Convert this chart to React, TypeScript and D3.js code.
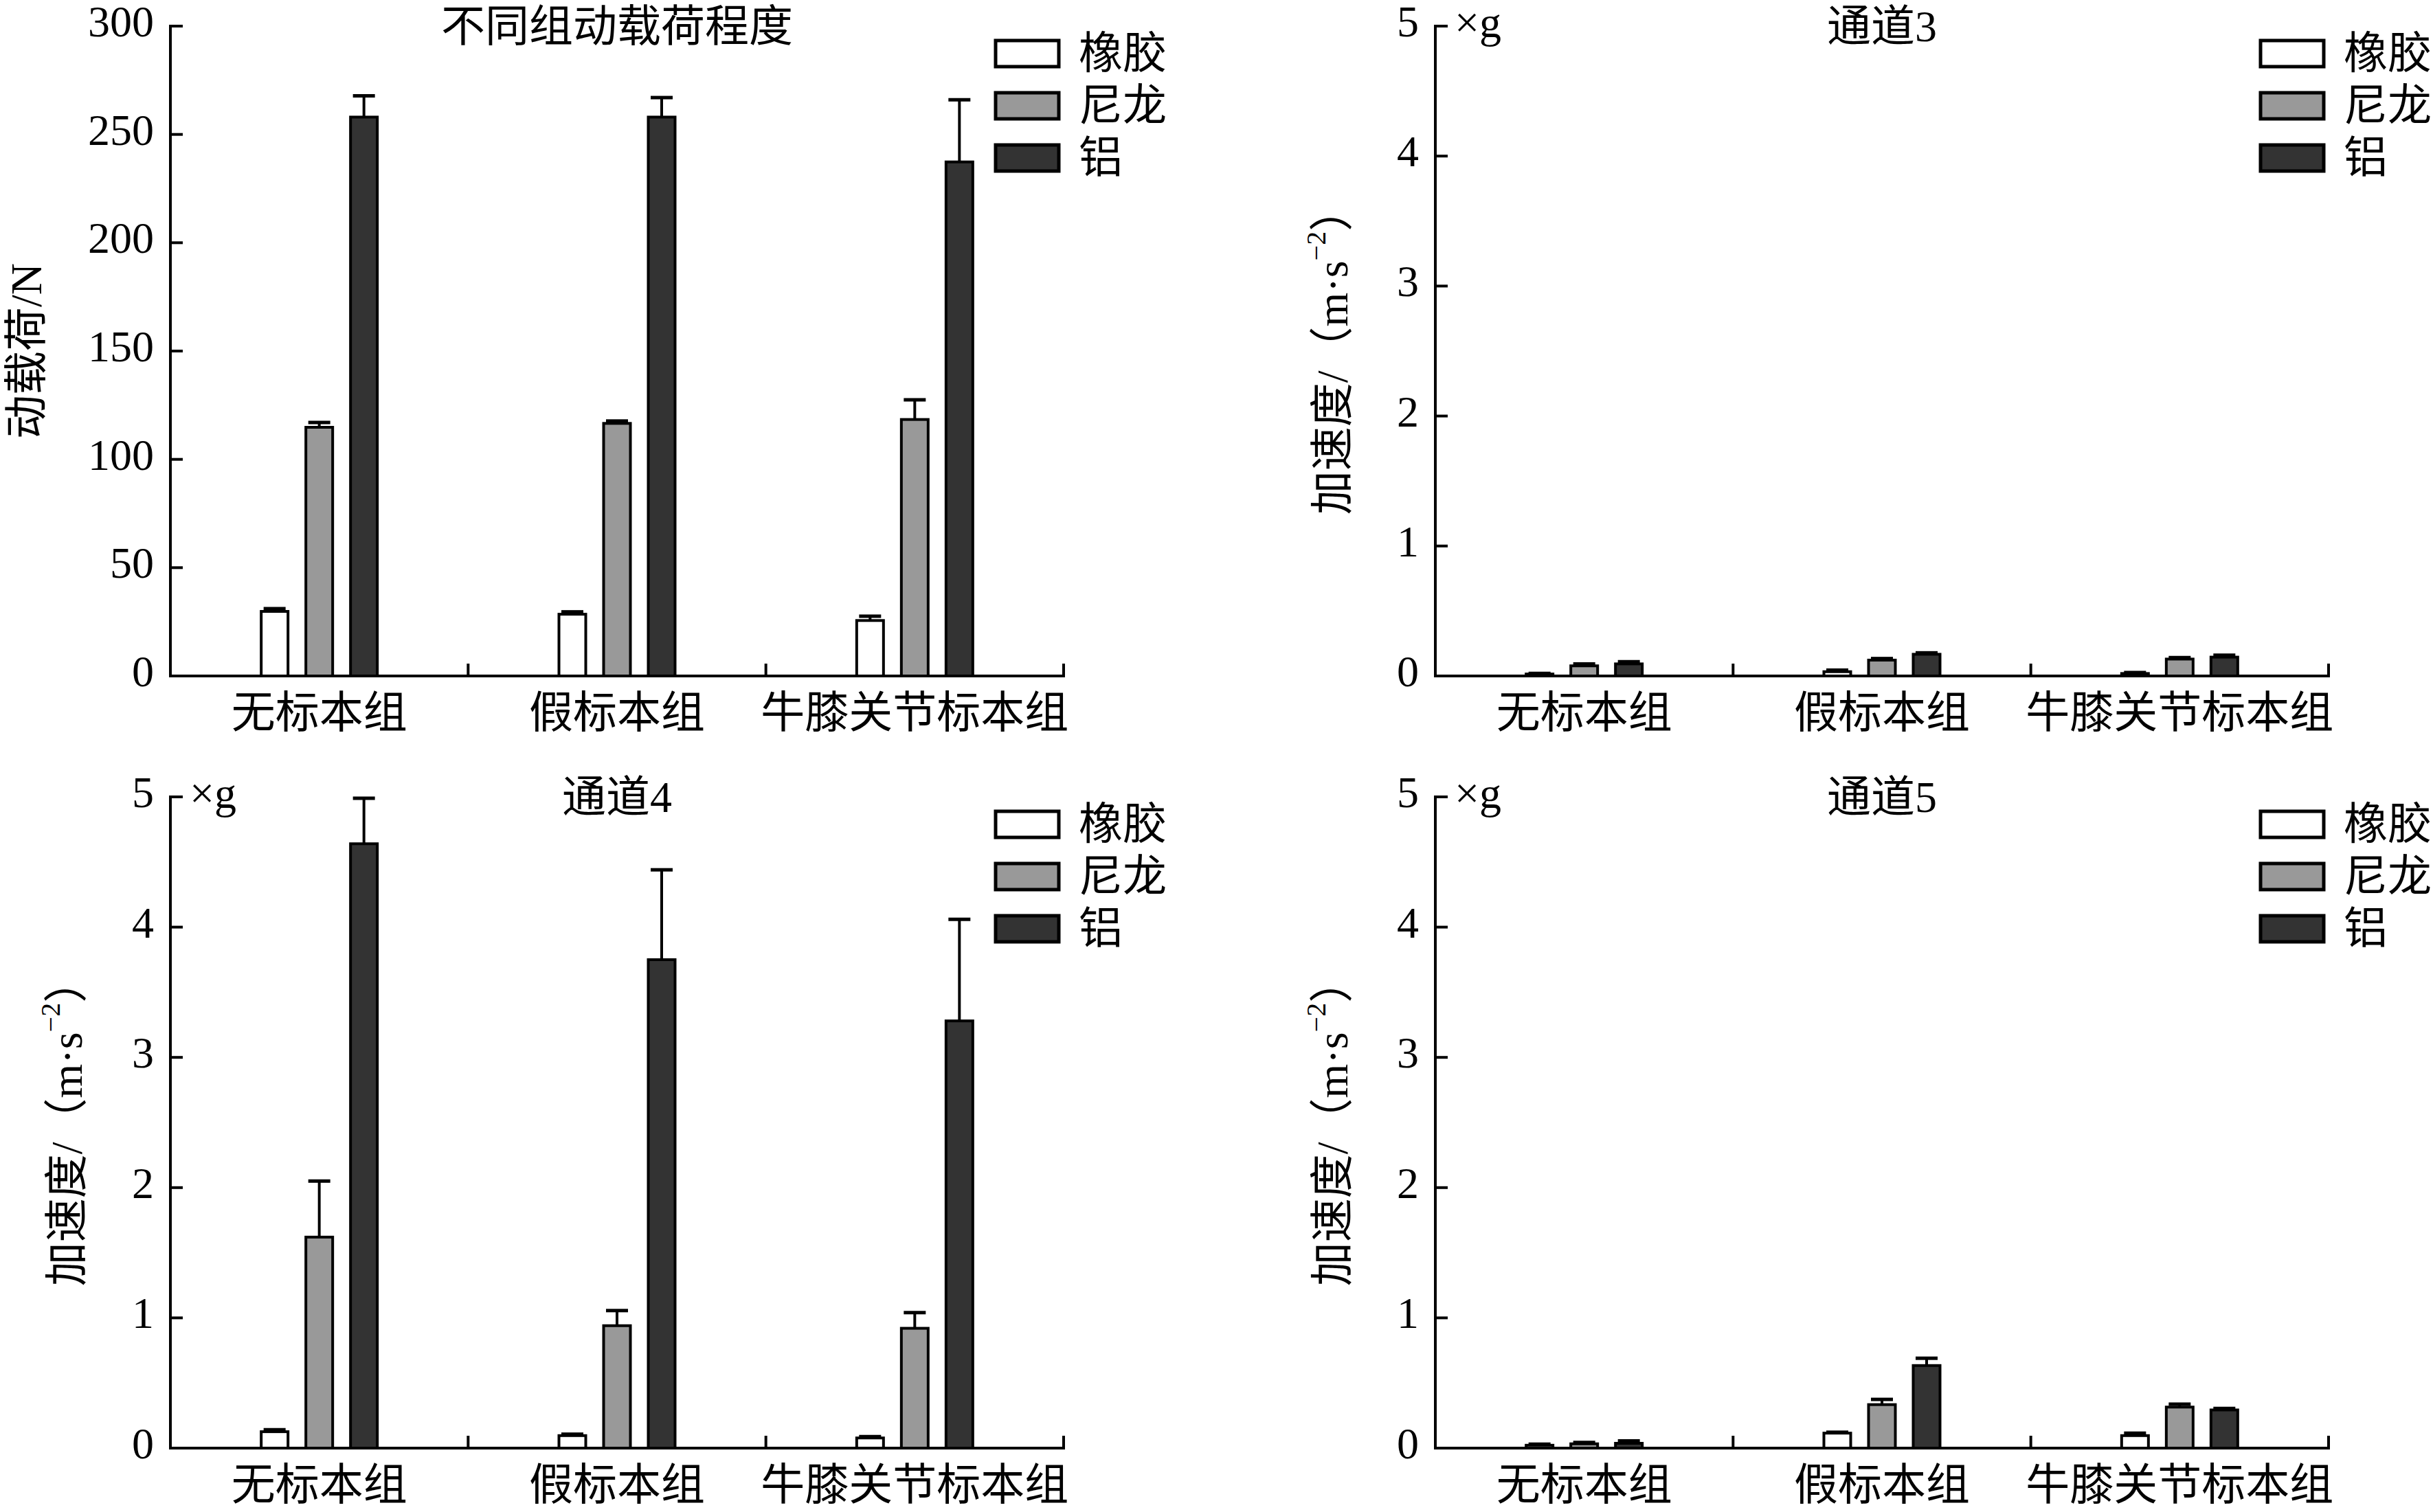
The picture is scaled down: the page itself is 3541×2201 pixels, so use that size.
import React from "react";
import * as d3 from "d3";

const categories = ["无标本组", "假标本组", "牛膝关节标本组"];
const seriesNames = ["橡胶", "尼龙", "铝"];
const seriesColors = ["#ffffff", "#999999", "#333333"];

// Panel 1: 动载荷 (N)
const loadRubber = [29.8, 28.5, 25.6];
const loadRubberErr = [1.3, 1.1, 2.0];
const loadNylon = [114.8, 116.6, 118.4];
const loadNylonErr = [2.2, 1.1, 9.1];
const loadAlu = [258, 258, 237.3];
const loadAluErr = [9.8, 9.0, 28.7];

// Panel 2: 通道3
const ch3Rubber = [0.015, 0.033, 0.019];
const ch3RubberErr = [0.005, 0.012, 0.007];
const ch3Nylon = [0.078, 0.122, 0.13];
const ch3NylonErr = [0.015, 0.012, 0.011];
const ch3Alu = [0.093, 0.167, 0.145];
const ch3AluErr = [0.017, 0.011, 0.015];

// Panel 3: 通道4
const ch4Rubber = [0.126, 0.096, 0.078];
const ch4RubberErr = [0.015, 0.011, 0.011];
const ch4Nylon = [1.62, 0.94, 0.92];
const ch4NylonErr = [0.43, 0.116, 0.12];
const ch4Alu = [4.64, 3.75, 3.28];
const ch4AluErr = [0.35, 0.69, 0.78];

// Panel 4: 通道5
const ch5Rubber = [0.022, 0.115, 0.096];
const ch5RubberErr = [0.008, 0.007, 0.019];
const ch5Nylon = [0.033, 0.334, 0.315];
const ch5NylonErr = [0.011, 0.04, 0.022];
const ch5Alu = [0.037, 0.634, 0.293];
const ch5AluErr = [0.019, 0.056, 0.011];

const loadTicks = [0, 50, 100, 150, 200, 250, 300];
const accTicks = [0, 1, 2, 3, 4, 5];

const FONT = "'Liberation Serif', 'Times New Roman', 'Noto Sans CJK SC', serif";
const FS = 64;

type PanelProps = {
  x0: number;
  x1: number;
  y0: number; // top
  y1: number; // bottom
  yMax: number;
  ticks: number[];
  title: string;
  unitG: boolean;
  yLabel: "load" | "acc";
  labelOffset: number;
  values: number[][];
  errors: number[][];
};

function Panel(p: PanelProps) {
  const xBand = d3.scaleBand<string>().domain(categories).range([p.x0, p.x1]).padding(0);
  const inner = d3.scalePoint<string>().domain(seriesNames).range([-65, 65]);
  const y = d3.scaleLinear().domain([0, p.yMax]).range([p.y1, p.y0]);
  const barW = 39;
  const capHalf = 16;
  const tickLen = 18;
  const midY = (p.y0 + p.y1) / 2;
  const cx = (p.x0 + p.x1) / 2;
  const boundaries = categories.map((c) => (xBand(c) as number) + xBand.bandwidth());

  return (
    <g>
      {/* bars */}
      {categories.map((c, ci) => {
        const gc = (xBand(c) as number) + xBand.bandwidth() / 2;
        return seriesNames.map((s, si) => {
          const v = p.values[si][ci];
          const e = p.errors[si][ci];
          const bx = gc + (inner(s) as number);
          const top = y(v);
          const et = y(v + e);
          return (
            <g key={c + s}>
              <line x1={bx} x2={bx} y1={top} y2={et} stroke="#000" strokeWidth={4} />
              <line x1={bx - capHalf} x2={bx + capHalf} y1={et} y2={et} stroke="#000" strokeWidth={5} />
              <rect
                x={bx - barW / 2}
                y={top}
                width={barW}
                height={y(0) - top}
                fill={seriesColors[si]}
                stroke="#000"
                strokeWidth={4}
              />
            </g>
          );
        });
      })}
      {/* axes */}
      <line x1={p.x0} x2={p.x0} y1={p.y0 - 2} y2={p.y1 + 2} stroke="#000" strokeWidth={4} />
      <line x1={p.x0} x2={p.x1 + 2} y1={p.y1} y2={p.y1} stroke="#000" strokeWidth={4} />
      {p.ticks.map((t) => (
        <g key={"yt" + t}>
          <line x1={p.x0} x2={p.x0 + tickLen} y1={y(t)} y2={y(t)} stroke="#000" strokeWidth={4} />
          <text x={p.x0 - 24} y={y(t) + 15} textAnchor="end" fontSize={FS} fontFamily={FONT}>
            {t}
          </text>
        </g>
      ))}
      {boundaries.map((bx, i) => (
        <line key={"xt" + i} x1={bx} x2={bx} y1={p.y1} y2={p.y1 - tickLen} stroke="#000" strokeWidth={4} />
      ))}
      {categories.map((c) => (
        <text
          key={"xl" + c}
          x={(xBand(c) as number) + xBand.bandwidth() / 2}
          y={p.y1 + 75}
          textAnchor="middle"
          fontSize={FS}
          fontFamily={FONT}
        >
          {c}
        </text>
      ))}
      {p.unitG && (
        <text x={p.x0 + 28} y={p.y0 + 16} fontSize={FS} fontFamily={FONT}>
          ×g
        </text>
      )}
      <text x={cx} y={p.y0 + 22} textAnchor="middle" fontSize={FS} fontFamily={FONT}>
        {p.title}
      </text>
      {/* y label */}
      <text
        transform={`translate(${p.x0 - p.labelOffset},${midY}) rotate(-90)`}
        textAnchor="middle"
        dominantBaseline="central"
        fontSize={FS}
        fontFamily={FONT}
      >
        {p.yLabel === "load" ? (
          "动载荷/N"
        ) : (
          <>
            <tspan>加速度/（m·s</tspan>
            <tspan fontSize={40} dy={-24}>−2</tspan>
            <tspan dy={24}>）</tspan>
          </>
        )}
      </text>
      {/* legend */}
      {seriesNames.map((s, si) => {
        const ly = p.y0 + 40 + si * 76;
        const lx = p.x1 - 99;
        return (
          <g key={"lg" + s}>
            <rect x={lx} y={ly - 19} width={92} height={38} fill={seriesColors[si]} stroke="#000" strokeWidth={5} />
            <text x={lx + 121} y={ly + 21} fontSize={FS} fontFamily={FONT}>
              {s}
            </text>
          </g>
        );
      })}
    </g>
  );
}

export default function App() {
  return (
    <svg
      width={3541}
      height={2201}
      style={{ position: "absolute", left: 0, top: 0, background: "#fff" }}
    >
      <rect x={0} y={0} width={3541} height={2201} fill="#fff" />
      <Panel
        x0={248} x1={1548} y0={38} y1={984} yMax={300} ticks={loadTicks}
        title="不同组动载荷程度" unitG={false} yLabel="load" labelOffset={210}
        values={[loadRubber, loadNylon, loadAlu]}
        errors={[loadRubberErr, loadNylonErr, loadAluErr]}
      />
      <Panel
        x0={2089} x1={3389} y0={38} y1={984} yMax={5} ticks={accTicks}
        title="通道3" unitG={true} yLabel="acc" labelOffset={150}
        values={[ch3Rubber, ch3Nylon, ch3Alu]}
        errors={[ch3RubberErr, ch3NylonErr, ch3AluErr]}
      />
      <Panel
        x0={248} x1={1548} y0={1160} y1={2108} yMax={5} ticks={accTicks}
        title="通道4" unitG={true} yLabel="acc" labelOffset={151}
        values={[ch4Rubber, ch4Nylon, ch4Alu]}
        errors={[ch4RubberErr, ch4NylonErr, ch4AluErr]}
      />
      <Panel
        x0={2089} x1={3389} y0={1160} y1={2108} yMax={5} ticks={accTicks}
        title="通道5" unitG={true} yLabel="acc" labelOffset={150}
        values={[ch5Rubber, ch5Nylon, ch5Alu]}
        errors={[ch5RubberErr, ch5NylonErr, ch5AluErr]}
      />
    </svg>
  );
}
